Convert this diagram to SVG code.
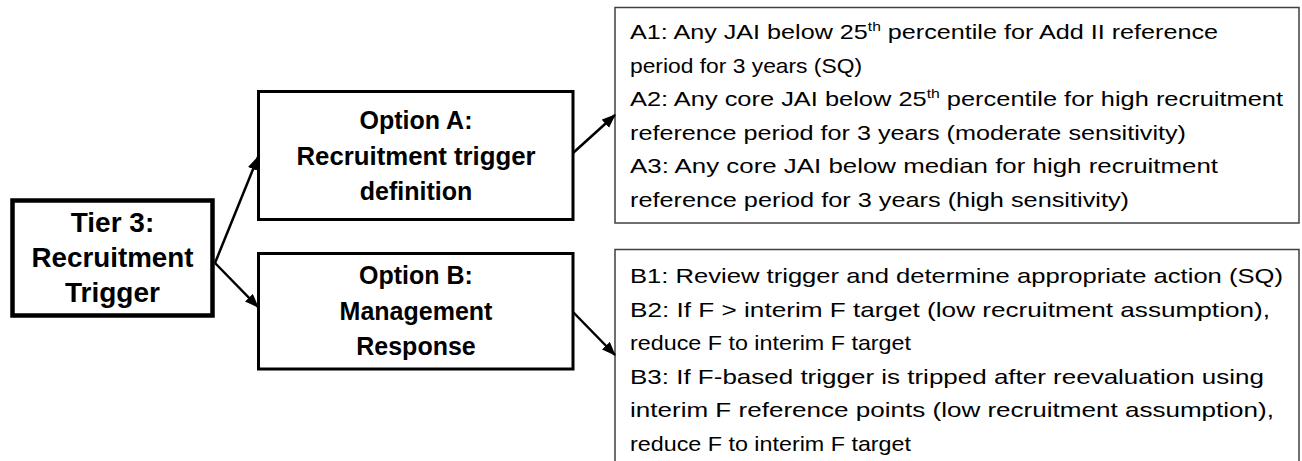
<svg xmlns="http://www.w3.org/2000/svg" width="1302" height="461" viewBox="0 0 1302 461">
<style>
.bold{font-family:"Liberation Sans",Arial,sans-serif;font-weight:bold;fill:#000;text-anchor:middle}
.t{font-family:"Liberation Sans",Arial,sans-serif;font-size:21px;fill:#000}
.thick{fill:#fff;stroke:#000}
.thin{fill:#fff;stroke:#404040;stroke-width:1.5}
.conn{stroke:#000;stroke-width:2.5;fill:none;marker-end:url(#ah)}
</style>
<defs>
<marker id="ah" markerUnits="userSpaceOnUse" markerWidth="14" markerHeight="12" refX="13" refY="5.5" orient="auto">
<path d="M0,0 L14,5.5 L0,11 z" fill="#000"/>
</marker>
</defs>
<rect width="1302" height="461" fill="#fff"/>
<g id="tier3">
<rect class="thick" x="12.5" y="200.5" width="200" height="115" stroke-width="4.5"/>
<text class="bold" font-size="28" x="112.5" y="232">Tier 3:</text>
<text class="bold" font-size="28" x="112.5" y="267" textLength="162" lengthAdjust="spacingAndGlyphs">Recruitment</text>
<text class="bold" font-size="28" x="112.5" y="302">Trigger</text>
</g>
<g id="optionA">
<rect class="thick" x="258.5" y="91.5" width="314.5" height="128" stroke-width="3"/>
<text class="bold" font-size="25" x="416" y="129">Option A:</text>
<text class="bold" font-size="25" x="416" y="165" textLength="239" lengthAdjust="spacingAndGlyphs">Recruitment trigger</text>
<text class="bold" font-size="25" x="416" y="200">definition</text>
</g>
<g id="optionB">
<rect class="thick" x="258.5" y="253.5" width="314.5" height="115.5" stroke-width="3"/>
<text class="bold" font-size="25" x="416" y="284">Option B:</text>
<text class="bold" font-size="25" x="416" y="319.5">Management</text>
<text class="bold" font-size="25" x="416" y="355">Response</text>
</g>
<g id="listA">
<rect class="thin" x="615" y="7.5" width="684" height="215.5"/>
<text class="t" x="630" y="39" textLength="588" lengthAdjust="spacingAndGlyphs">A1: Any JAI below 25<tspan font-size="13" dy="-8">th</tspan><tspan dy="8"> percentile for Add II reference</tspan></text>
<text class="t" x="630" y="72.5" textLength="232" lengthAdjust="spacingAndGlyphs">period for 3 years (SQ)</text>
<text class="t" x="630" y="106" textLength="653" lengthAdjust="spacingAndGlyphs">A2: Any core JAI below 25<tspan font-size="13" dy="-8">th</tspan><tspan dy="8"> percentile for high recruitment</tspan></text>
<text class="t" x="630" y="139.5" textLength="556" lengthAdjust="spacingAndGlyphs">reference period for 3 years (moderate sensitivity)</text>
<text class="t" x="630" y="173" textLength="588" lengthAdjust="spacingAndGlyphs">A3: Any core JAI below median for high recruitment</text>
<text class="t" x="630" y="206.5" textLength="499" lengthAdjust="spacingAndGlyphs">reference period for 3 years (high sensitivity)</text>
</g>
<g id="listB">
<rect class="thin" x="615" y="249.5" width="684" height="230"/>
<text class="t" x="630" y="283" textLength="653" lengthAdjust="spacingAndGlyphs">B1: Review trigger and determine appropriate action (SQ)</text>
<text class="t" x="630" y="316.5" textLength="640" lengthAdjust="spacingAndGlyphs">B2: If F &gt; interim F target (low recruitment assumption),</text>
<text class="t" x="630" y="350" textLength="281" lengthAdjust="spacingAndGlyphs">reduce F to interim F target</text>
<text class="t" x="630" y="383.5" textLength="634" lengthAdjust="spacingAndGlyphs">B3: If F-based trigger is tripped after reevaluation using</text>
<text class="t" x="630" y="417" textLength="644" lengthAdjust="spacingAndGlyphs">interim F reference points (low recruitment assumption),</text>
<text class="t" x="630" y="450.5" textLength="281" lengthAdjust="spacingAndGlyphs">reduce F to interim F target</text>
</g>
<g id="connectors">
<line class="conn" x1="215" y1="263" x2="258" y2="157"/>
<line class="conn" x1="215" y1="263" x2="258" y2="307"/>
<line class="conn" x1="573" y1="153" x2="615" y2="115"/>
<line class="conn" x1="573" y1="312" x2="615" y2="355"/>
</g>
</svg>
